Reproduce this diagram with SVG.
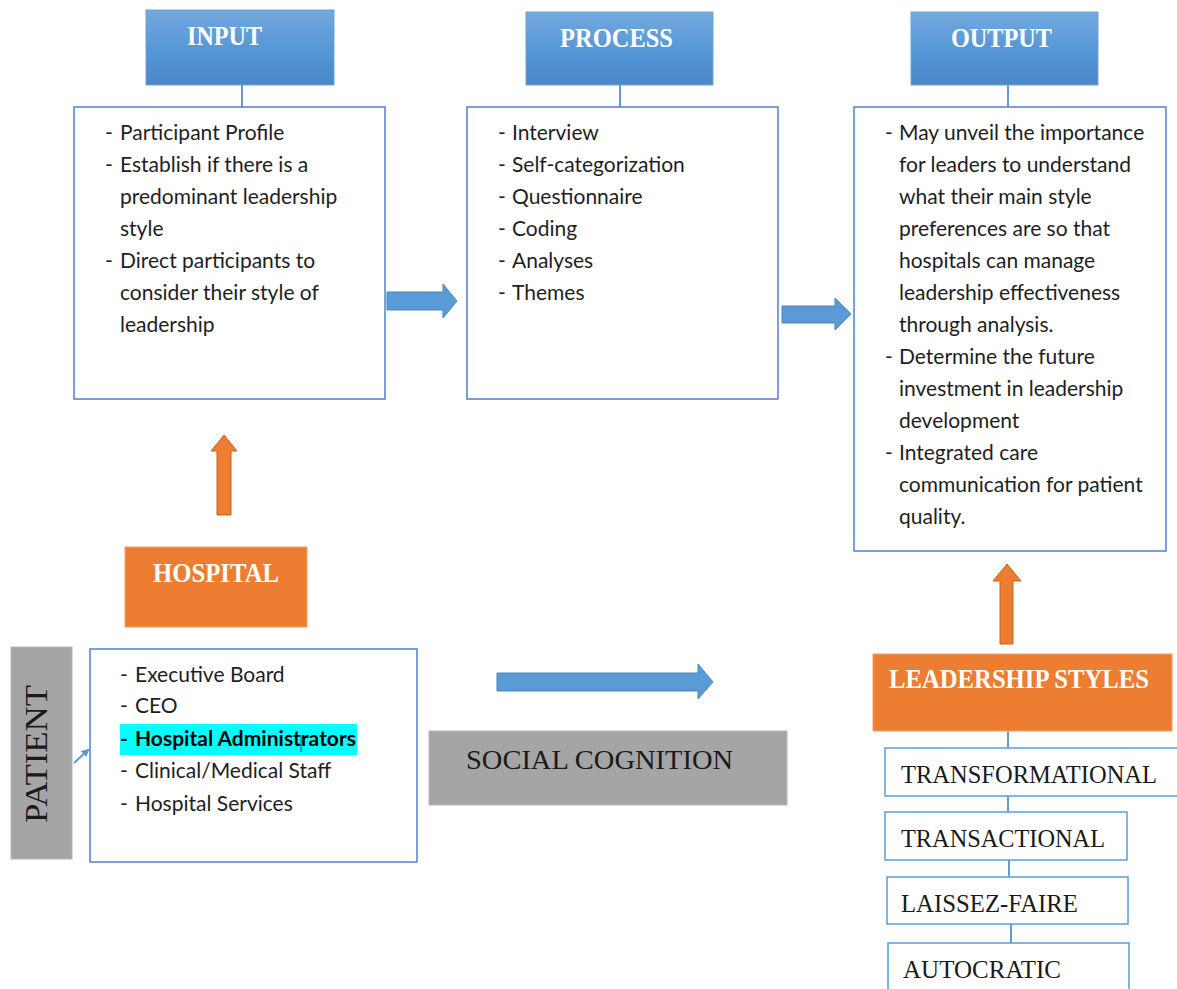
<svg xmlns="http://www.w3.org/2000/svg" width="1177" height="989" viewBox="0 0 1177 989">
  <defs>
    <linearGradient id="hdrGrad" x1="0" y1="0" x2="0" y2="1">
      <stop offset="0" stop-color="#74a9de"/>
      <stop offset="0.55" stop-color="#5596d6"/>
      <stop offset="1" stop-color="#4a88c8"/>
    </linearGradient>
    <marker id="smallHead" markerWidth="8" markerHeight="8" refX="6" refY="4" orient="auto" markerUnits="userSpaceOnUse">
      <path d="M0,0 L8,4 L0,8 Z" fill="#5b9bd5"/>
    </marker>
    <style>
      .hdr { fill: url(#hdrGrad); stroke: #6fa3d8; stroke-width: 1; }
      .hdrText { font-family: "Liberation Serif", "Times New Roman", serif; font-weight: bold; font-size: 27px; fill: #ffffff; }
      .orange { fill: #ed7d31; stroke: #f4a06a; stroke-width: 1; }
      .orangeText { font-family: "Liberation Serif", "Times New Roman", serif; font-weight: bold; font-size: 27px; fill: #ffffff; }
      .panel { fill: #ffffff; stroke: #4f81d0; stroke-width: 1.5; }
      .list { font-family: Lato, "Open Sans", sans-serif; font-size: 21px; fill: #1e1e1e; }
      .gray { fill: #a5a5a5; stroke: #b8b8b8; stroke-width: 1; }
      .grayText { font-family: "Liberation Serif", "Times New Roman", serif; font-size: 28px; fill: #1a1a1a; }
      .style { fill: #ffffff; stroke: #5b9bd5; stroke-width: 1.5; }
      .styleText { font-family: "Liberation Serif", "Times New Roman", serif; font-size: 26px; fill: #1a1a1a; }
      .link { stroke: #2e7bc4; stroke-width: 1.5; fill: none; }
      .blueArrow { fill: #5b9bd5; stroke: #4a86c0; stroke-width: 1; }
      .orangeArrow { fill: #ed7d31; stroke: #c8631f; stroke-width: 1; }
    </style>
  </defs>

  <!-- connectors -->
  <g id="connectors">
    <line class="link" x1="242" y1="85" x2="242" y2="107"/>
    <line class="link" x1="620" y1="85" x2="620" y2="107"/>
    <line class="link" x1="1008" y1="85" x2="1008" y2="107"/>
    <line class="link" x1="1008" y1="731" x2="1008" y2="748"/>
    <line class="link" x1="1008" y1="796" x2="1008" y2="812"/>
    <line class="link" x1="1009" y1="860" x2="1009" y2="877"/>
    <line class="link" x1="1011" y1="924" x2="1011" y2="943"/>
    <!-- block arrows -->
    <path class="blueArrow" d="M387,292 L443,292 L443,284 L457,301 L443,318 L443,310 L387,310 Z"/>
    <path class="blueArrow" d="M782,306 L835,306 L835,298 L851,314 L835,330 L835,323 L782,323 Z"/>
    <path class="blueArrow" d="M497,673 L698,673 L698,664 L713,682 L698,699 L698,691 L497,691 Z"/>
    <path class="orangeArrow" d="M217,515 L217,451 L211,451 L224,435 L237,451 L231,451 L231,515 Z"/>
    <path class="orangeArrow" d="M1000,644 L1000,581 L993,581 L1007,564 L1021,581 L1013,581 L1013,644 Z"/>
    <line x1="74" y1="763" x2="88" y2="750" stroke="#5b9bd5" stroke-width="2" marker-end="url(#smallHead)"/>
  </g>

  <!-- INPUT -->
  <g id="input-header">
    <rect class="hdr" x="146" y="10" width="188" height="75"/>
    <text class="hdrText" x="187" y="45" textLength="75" lengthAdjust="spacingAndGlyphs">INPUT</text>
  </g>
  <g id="input-panel">
    <rect class="panel" x="74" y="107" width="311" height="292"/>
    <g class="list">
      <text x="105" y="140">-</text><text x="120" y="140">Participant Profile</text>
      <text x="105" y="172">-</text><text x="120" y="172">Establish if there is a</text>
      <text x="120" y="204">predominant leadership</text>
      <text x="120" y="236">style</text>
      <text x="105" y="268">-</text><text x="120" y="268">Direct participants to</text>
      <text x="120" y="300">consider their style of</text>
      <text x="120" y="332">leadership</text>
    </g>
  </g>

  <!-- PROCESS -->
  <g id="process-header">
    <rect class="hdr" x="526" y="12" width="187" height="73"/>
    <text class="hdrText" x="560" y="47" textLength="113" lengthAdjust="spacingAndGlyphs">PROCESS</text>
  </g>
  <g id="process-panel">
    <rect class="panel" x="467" y="107" width="311" height="292"/>
    <g class="list">
      <text x="498" y="140">-</text><text x="512" y="140">Interview</text>
      <text x="498" y="172">-</text><text x="512" y="172">Self-categorization</text>
      <text x="498" y="204">-</text><text x="512" y="204">Questionnaire</text>
      <text x="498" y="236">-</text><text x="512" y="236">Coding</text>
      <text x="498" y="268">-</text><text x="512" y="268">Analyses</text>
      <text x="498" y="300">-</text><text x="512" y="300">Themes</text>
    </g>
  </g>

  <!-- OUTPUT -->
  <g id="output-header">
    <rect class="hdr" x="911" y="12" width="187" height="73"/>
    <text class="hdrText" x="951" y="47" textLength="101" lengthAdjust="spacingAndGlyphs">OUTPUT</text>
  </g>
  <g id="output-panel">
    <rect class="panel" x="854" y="107" width="312" height="444"/>
    <g class="list">
      <text x="885" y="140">-</text><text x="899" y="140">May unveil the importance</text>
      <text x="899" y="172">for leaders to understand</text>
      <text x="899" y="204">what their main style</text>
      <text x="899" y="236">preferences are so that</text>
      <text x="899" y="268">hospitals can manage</text>
      <text x="899" y="300">leadership effectiveness</text>
      <text x="899" y="332">through analysis.</text>
      <text x="885" y="364">-</text><text x="899" y="364">Determine the future</text>
      <text x="899" y="396">investment in leadership</text>
      <text x="899" y="428">development</text>
      <text x="885" y="460">-</text><text x="899" y="460">Integrated care</text>
      <text x="899" y="492">communication for patient</text>
      <text x="899" y="524">quality.</text>
    </g>
  </g>

  <!-- HOSPITAL -->
  <g id="hospital">
    <rect class="orange" x="125" y="547" width="182" height="80"/>
    <text class="orangeText" x="153" y="582" textLength="126" lengthAdjust="spacingAndGlyphs">HOSPITAL</text>
  </g>

  <!-- PATIENT -->
  <g id="patient">
    <rect class="gray" x="11" y="647" width="61" height="212"/>
    <text class="grayText" transform="translate(47,823) rotate(-90)" style="font-size:31px" textLength="138" lengthAdjust="spacingAndGlyphs">PATIENT</text>
  </g>

  <!-- hospital roles -->
  <g id="hospital-roles">
    <rect class="panel" x="90" y="649" width="327" height="213"/>
    <rect x="120" y="724" width="237" height="31" fill="#00ffff"/>
    <g class="list">
      <text x="120" y="682">-</text><text x="135" y="682">Executive Board</text>
      <text x="120" y="713">-</text><text x="135" y="713">CEO</text>
      <text x="120" y="746" font-weight="bold" fill="#000">-</text><text x="135" y="746" font-weight="bold" fill="#000">Hospital Administrators</text>
      <text x="120" y="778">-</text><text x="135" y="778">Clinical/Medical Staff</text>
      <text x="120" y="811">-</text><text x="135" y="811">Hospital Services</text>
    </g>
    <line x1="301" y1="735" x2="301" y2="752" stroke="#1f4e9a" stroke-width="1"/>
  </g>

  <!-- SOCIAL COGNITION -->
  <g id="social-cognition">
    <rect class="gray" x="429" y="731" width="358" height="74"/>
    <text class="grayText" x="466" y="769" textLength="267" lengthAdjust="spacingAndGlyphs">SOCIAL COGNITION</text>
  </g>

  <!-- LEADERSHIP STYLES -->
  <g id="leadership-styles">
    <rect class="orange" x="873" y="654" width="299" height="77"/>
    <text class="orangeText" x="889" y="688" textLength="260" lengthAdjust="spacingAndGlyphs">LEADERSHIP STYLES</text>
  </g>
  <g id="style-transformational">
    <rect class="style" x="885" y="748" width="300" height="48"/>
    <text class="styleText" x="901" y="783" textLength="256" lengthAdjust="spacingAndGlyphs">TRANSFORMATIONAL</text>
  </g>
  <g id="style-transactional">
    <rect class="style" x="885" y="812" width="242" height="48"/>
    <text class="styleText" x="901" y="847" textLength="204" lengthAdjust="spacingAndGlyphs">TRANSACTIONAL</text>
  </g>
  <g id="style-laissez-faire">
    <rect class="style" x="887" y="877" width="241" height="47"/>
    <text class="styleText" x="901" y="912" textLength="177" lengthAdjust="spacingAndGlyphs">LAISSEZ-FAIRE</text>
  </g>
  <g id="style-autocratic">
    <rect class="style" x="888" y="943" width="241" height="60"/>
    <text class="styleText" x="903" y="978" textLength="158" lengthAdjust="spacingAndGlyphs">AUTOCRATIC</text>
  </g>
</svg>
